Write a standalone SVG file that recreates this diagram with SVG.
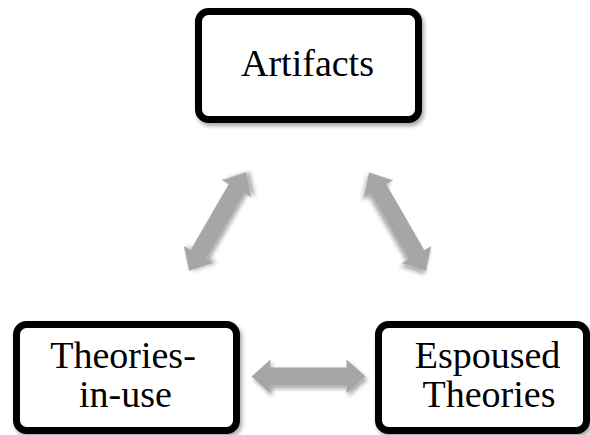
<svg xmlns="http://www.w3.org/2000/svg" width="590" height="435" viewBox="0 0 590 435">
  <defs>
    <filter id="shadow" x="-20%" y="-20%" width="140%" height="140%">
      <feDropShadow dx="2" dy="3" stdDeviation="2" flood-color="#000" flood-opacity="0.35"/>
    </filter>
    <path id="dblarrow" d="M-57,0 L-38,-17 L-38,-9 L38,-9 L38,-17 L57,0 L38,17 L38,9 L-38,9 L-38,17 Z"/>
  </defs>
  <style>
    .box { fill: #ffffff; stroke: #000000; stroke-width: 7; filter: url(#shadow); }
    .label { font-family: "Liberation Serif", "Times New Roman", serif; font-size: 38px; fill: #000000; text-anchor: middle; }
    .arrow { fill: #a6a6a6; filter: url(#shadow); }
  </style>
  <rect width="590" height="435" fill="#ffffff"/>
  <g id="connectors">
    <use href="#dblarrow" class="arrow" transform="translate(217.5,221.5) rotate(-60)"/>
    <use href="#dblarrow" class="arrow" transform="translate(397.5,221.7) rotate(60)"/>
    <use href="#dblarrow" class="arrow" transform="translate(308.5,376.5)"/>
  </g>
  <g id="artifacts">
    <rect class="box" x="198.5" y="11.5" width="220" height="108" rx="10"/>
    <text class="label" x="307.5" y="76">Artifacts</text>
  </g>
  <g id="theories-in-use">
    <rect class="box" x="16.5" y="324.5" width="220" height="106" rx="10"/>
    <text class="label" x="123" y="368">Theories-</text>
    <text class="label" x="125.5" y="407">in-use</text>
  </g>
  <g id="espoused-theories">
    <rect class="box" x="378.5" y="324.5" width="208" height="106" rx="10"/>
    <text class="label" x="487.5" y="368">Espoused</text>
    <text class="label" x="489" y="407">Theories</text>
  </g>
</svg>
